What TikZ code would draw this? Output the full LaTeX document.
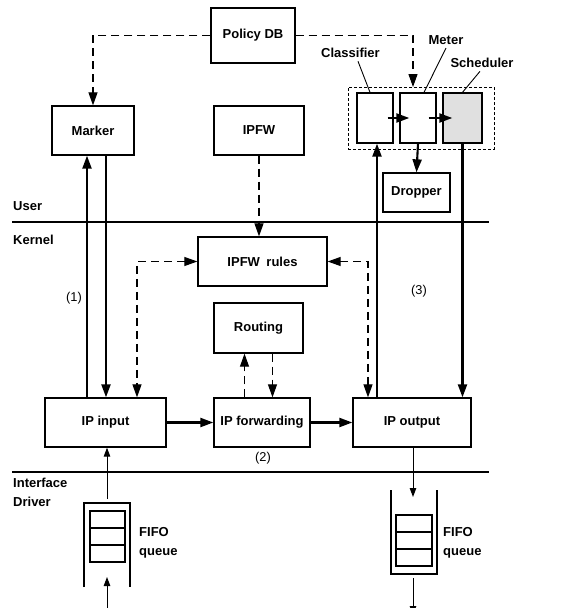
\documentclass[tikz,border=0pt]{standalone}
\usepackage{fontspec}
\setmainfont{Liberation Sans}
\usetikzlibrary{arrows.meta,positioning,calc}

\begin{document}
\begin{tikzpicture}[
    x=1pt, y=-1pt,
    font=\fontsize{13}{15}\selectfont\bfseries,
    >={Triangle[length=13pt,width=9pt]},
    block/.style={draw, line width=1.3pt, inner sep=0pt, minimum height=49pt},
    cell/.style={draw, line width=1.1pt, minimum width=35pt, minimum height=17pt, inner sep=0pt, outer sep=0pt},
    flow/.style={line width=2.1pt, ->},
    thinflow/.style={line width=1pt, -{Triangle[length=9pt,width=6.5pt]}},
    ctrl/.style={line width=1.1pt, dash pattern=on 8pt off 5pt},
    layer/.style={line width=2.2pt},
    tag/.style={font=\fontsize{12.8}{15}\selectfont\mdseries},
    side/.style={anchor=west, align=left, inner sep=0pt, font=\fontsize{13}{19}\selectfont\bfseries},
    pointer/.style={line width=0.9pt},
]
\useasboundingbox (0,0) rectangle (566,608);
\clip (0,0) rectangle (566,608);

% user space
\node[block, minimum width=84pt, minimum height=55pt] (policy) at (253,35.5) {Policy DB};
\node[block, minimum width=82pt] (marker) at (93,130.5) {Marker};
\node[block, minimum width=90pt] (ipfw) at (259,130.5) {IPFW};
\node[draw, line width=0.6pt, densely dashed, minimum width=146pt, minimum height=62pt, inner sep=0pt] (conditioner) at (421,118) {};
\node[block, minimum width=36pt, minimum height=50pt] (classifier) at (375,118) {};
\node[block, minimum width=36pt, minimum height=50pt] (meter) at (418,118) {};
\node[block, minimum width=39pt, minimum height=50pt, fill=black!12] (scheduler) at (462.5,118) {};
\node[block, minimum width=67pt, minimum height=39pt] (dropper) at (416.5,192.5) {Dropper};

\node (lblclass) at (350.5,53) {Classifier};
\node (lblmeter) at (446,40) {Meter};
\node (lblsched) at (482,63) {Scheduler};
\draw[pointer] ([xshift=7.5pt]lblclass.south) -- ([xshift=-5pt]classifier.north);
\draw[pointer] (lblmeter.south) -- ([xshift=6pt]meter.north);
\draw[pointer] ([xshift=-2pt]lblsched.south) -- (scheduler.north);

% kernel
\node[block, minimum width=129pt] (rules) at (262.5,261.5) {IPFW\enspace rules};
\node[block, minimum width=89pt, minimum height=50pt] (routing) at (258.5,328) {Routing};
\node[block, minimum width=121pt] (ipin) at (105.5,422.5) {IP input};
\node[block, minimum width=96pt] (ipfwd) at (262,422.5) {IP forwarding};
\node[block, minimum width=118pt] (ipout) at (412,422.5) {IP output};

\node[tag] (n1) at (74,298) {(1)};
\node[tag] (n2) at (263,458) {(2)};
\node[tag] (n3) at (419,291) {(3)};

% layer boundaries
\draw[layer] (12,222) -- (489,222);
\draw[layer] (12,472) -- (489,472);
\node[side] (user) at (13,206) {User};
\node[side] (kernel) at (13,240) {Kernel};
\node[side] (driver) at (13,492.5) {Interface\\Driver};

% control paths
\coordinate (meterin) at (413,87);
\draw[ctrl, ->] (policy.west) -| (marker.north);
\draw[ctrl, ->] (policy.east) -| (meterin);
\draw[ctrl, ->] (ipfw.south) -- (ipfw.south |- rules.north);
\draw[ctrl, <->] (rules.west) -| ([xshift=31.5pt]ipin.north);
\draw[ctrl, <->] (rules.east) -| ([xshift=-44pt]ipout.north);
\draw[ctrl, ->] ([xshift=-14pt]routing.south |- ipfwd.north) -- ([xshift=-14pt]routing.south);
\draw[ctrl, ->] ([xshift=14pt]routing.south) -- ([xshift=14pt]routing.south |- ipfwd.north);

% packet paths
\draw[flow] ([xshift=13pt]marker.south) -- ([xshift=13pt]marker.south |- ipin.north);
\draw[flow] ([xshift=-18.5pt]ipin.north) -- ([xshift=-18.5pt]ipin.north |- marker.south);
\draw[flow] (ipin.east) -- (ipfwd.west);
\draw[flow] (ipfwd.east) -- (ipout.west);
\draw[flow] ([xshift=-35pt]ipout.north) -- ([xshift=-35pt]ipout.north |- classifier.south);
\draw[flow] (scheduler.south) -- (scheduler.south |- ipout.north);
\draw[flow] (meter.south) -- (dropper.north);
\draw[flow] ([xshift=-6pt]classifier.east) -- ([xshift=10pt]meter.west);
\draw[flow] ([xshift=-8pt]meter.east) -- ([xshift=10pt]scheduler.west);

% input queue
\draw[line width=1.1pt] (84,587) |- (130,503) -- (130,587);
\node[cell] (inq1) at (107.5,519.5) {};
\node[cell, below=0pt of inq1] (inq2) {};
\node[cell, below=0pt of inq2] (inq3) {};
\node[side] (inlbl) at (139,542.5) {FIFO\\queue};
\coordinate (inqtop) at (107,499);
\coordinate (inqbot) at (107,577);
\coordinate (inlink) at (107,608);
\draw[thinflow] (inqtop) -- (inqtop |- ipin.south);
\draw[thinflow] (inlink) -- (inqbot);

% output queue
\draw[line width=1.1pt] (391,490) |- (437,574) -- (437,490);
\node[cell, minimum width=36pt] (outq1) at (414,523.5) {};
\node[cell, minimum width=36pt, below=0pt of outq1] (outq2) {};
\node[cell, minimum width=36pt, below=0pt of outq2] (outq3) {};
\node[side] (outlbl) at (443,542.5) {FIFO\\queue};
\coordinate (outqtop) at (413,497);
\coordinate (outqbot) at (413,578);
\coordinate (outlink) at (413,615);
\draw[thinflow] (ipout.south -| outqtop) -- (outqtop);
\draw[thinflow] (outqbot) -- (outlink);
\end{tikzpicture}
\end{document}
